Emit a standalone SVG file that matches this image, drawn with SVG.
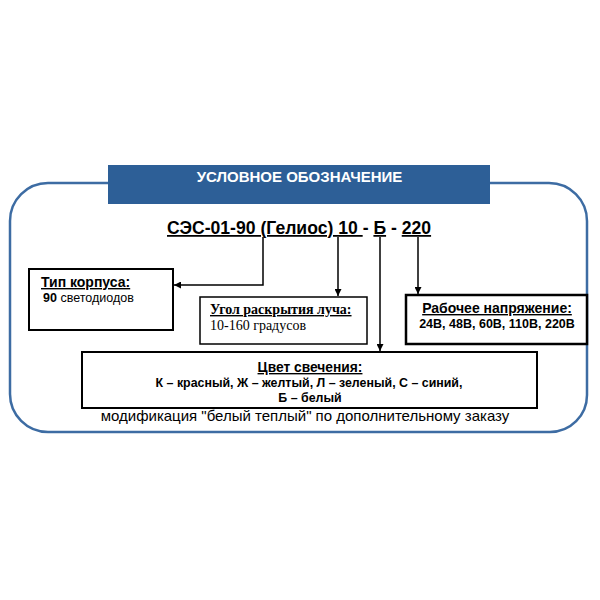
<svg xmlns="http://www.w3.org/2000/svg" width="600" height="600" viewBox="0 0 600 600">
<defs>
<marker id="ah" viewBox="0 0 10 10" refX="10" refY="5" markerWidth="7" markerHeight="7" orient="auto" markerUnits="userSpaceOnUse">
<path d="M0,0 L10,5 L0,10 z" fill="#000"/>
</marker>
</defs>
<style>
.sans{font-family:"Liberation Sans",Arial,sans-serif;}
.serif{font-family:"Liberation Serif","Times New Roman",serif;}
.b{font-weight:bold;}
.u{text-decoration:underline;}
.box{fill:#fff;stroke:#000;}
.conn{fill:none;stroke:#000;stroke-width:1.5;marker-end:url(#ah);}
</style>
<rect width="600" height="600" fill="#fff"/>
<path d="M108,183 H48 A38,38 0 0 0 10,221 V394 A38,38 0 0 0 48,432 H550 A37,37 0 0 0 587,395 V221 A38,38 0 0 0 549,183 H490" fill="none" stroke="#3d6ca3" stroke-width="2.5"/>
<g id="header">
<rect x="108" y="165" width="382" height="39" fill="#2d5f97"/>
<text x="299.5" y="182" text-anchor="middle" class="sans b" font-size="15" fill="#fff">УСЛОВНОЕ ОБОЗНАЧЕНИЕ</text>
</g>
<g id="code">
<text x="167" y="234" class="sans b" font-size="17.6" fill="#000"><tspan class="u">СЭС-01-90 (Гелиос) 10 </tspan>- <tspan class="u">Б</tspan> - <tspan class="u">220</tspan></text>
</g>
<g id="connectors">
<path class="conn" d="M263,237 V285 H174"/>
<path class="conn" d="M338,237 V296"/>
<path class="conn" d="M380,237 V351"/>
<path class="conn" d="M418,237 V294"/>
</g>
<g id="type">
<rect class="box" x="29" y="269" width="144" height="61" stroke-width="2"/>
<text x="41" y="287" class="sans b u" font-size="14">Тип корпуса:</text>
<text x="43" y="302" class="sans" font-size="12.5"><tspan class="b">90</tspan> светодиодов</text>
</g>
<g id="angle">
<rect class="box" x="200" y="297" width="167" height="47" stroke-width="1.5"/>
<text x="210" y="314" class="serif b u" font-size="14">Угол раскрытия луча:</text>
<text x="210" y="330" class="serif" font-size="14">10-160 градусов</text>
</g>
<g id="voltage">
<rect class="box" x="406" y="295" width="181" height="49" stroke-width="2.5"/>
<text x="497" y="313" text-anchor="middle" class="sans b u" font-size="14">Рабочее напряжение:</text>
<text x="497" y="328" text-anchor="middle" class="sans b" font-size="12.5">24В, 48В, 60В, 110В, 220В</text>
</g>
<g id="color">
<rect class="box" x="82" y="352" width="455" height="56" stroke-width="2"/>
<text x="310" y="372" text-anchor="middle" class="sans b u" font-size="13.8">Цвет свечения:</text>
<text x="309" y="387" text-anchor="middle" class="sans b" font-size="12.4">К – красный, Ж – желтый, Л – зеленый, С – синий,</text>
<text x="310" y="402" text-anchor="middle" class="sans b" font-size="12.4">Б – белый</text>
</g>
<text x="305" y="421" text-anchor="middle" class="sans" font-size="15">модификация "белый теплый" по дополнительному заказу</text>
</svg>
